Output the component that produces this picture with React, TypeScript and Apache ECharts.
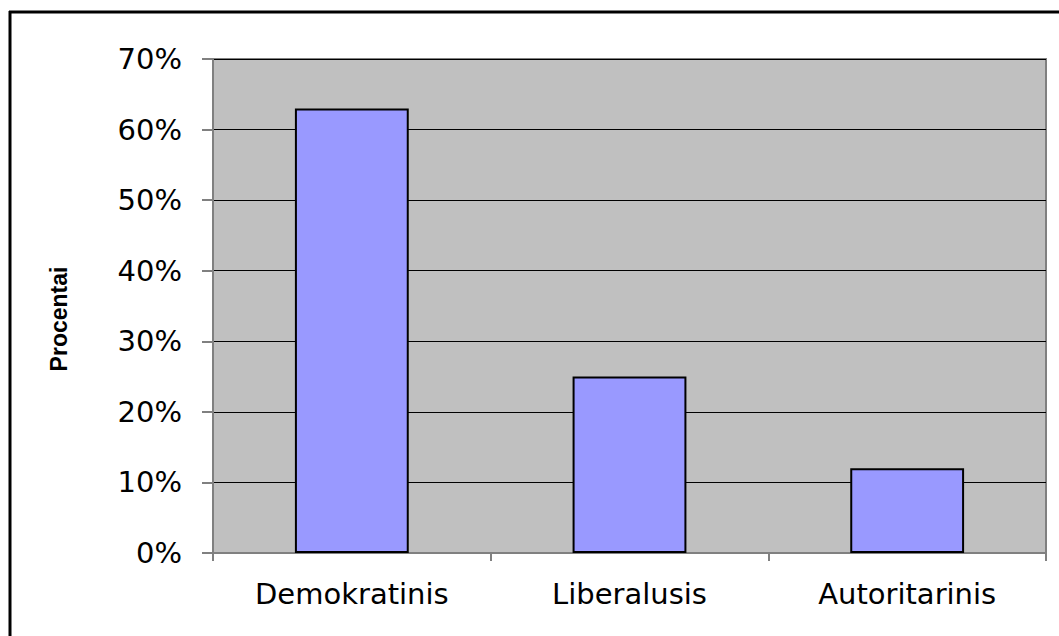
import React, { useEffect, useRef } from "react";
import * as echarts from "echarts";

const categories = ["Demokratinis", "Liberalusis", "Autoritarinis"];
const values = [63, 25, 12];
const yTicks = { min: 0, max: 70, interval: 10 };
const yTitle = "Procentai";

export default function App() {
  const ref = useRef<HTMLDivElement>(null);
  useEffect(() => {
    if (!ref.current) return;
    document.body.style.margin = "0";
    document.body.style.overflow = "hidden";
    const chart = echarts.init(ref.current, undefined, { renderer: "svg" });
    chart.setOption({
      animation: false,
      backgroundColor: "#ffffff",
      grid: {
        left: 213,
        top: 59,
        right: 13,
        bottom: 83,
        show: true,
        backgroundColor: "#C0C0C0",
        borderColor: "#808080",
        borderWidth: 2,
      },
      graphic: [
        {
          type: "line",
          shape: { x1: 10, y1: 11, x2: 10, y2: 636 },
          style: { stroke: "#000", lineWidth: 3 },
          silent: true,
        },
        {
          type: "line",
          shape: { x1: 9, y1: 12, x2: 1059, y2: 12 },
          style: { stroke: "#000", lineWidth: 3 },
          silent: true,
        },
        {
          type: "text",
          x: 59,
          y: 319,
          rotation: Math.PI / 2,
          style: {
            text: yTitle,
            fontSize: 23,
            fontWeight: "bold",
            fontFamily: "Liberation Sans, Arial, sans-serif",
            fill: "#000",
            align: "center",
            verticalAlign: "middle",
          },
        },
      ],
      xAxis: {
        type: "category",
        data: categories,
        boundaryGap: true,
        axisLine: { lineStyle: { color: "#808080", width: 2 } },
        axisTick: { show: true, length: 8, lineStyle: { color: "#808080", width: 2 } },
        axisLabel: {
          color: "#000",
          fontSize: 29,
          fontFamily: "'DejaVu Sans', sans-serif",
          margin: 26,
        },
      },
      yAxis: {
        type: "value",
        min: yTicks.min,
        max: yTicks.max,
        interval: yTicks.interval,
        axisLine: { show: true, lineStyle: { color: "#808080", width: 2 } },
        axisTick: { show: true, length: 11, lineStyle: { color: "#808080", width: 2 } },
        axisLabel: {
          color: "#000",
          fontSize: 29,
          fontFamily: "'DejaVu Sans', sans-serif",
          margin: 31,
          formatter: (v: number) => v + "%",
        },
        splitLine: { show: true, lineStyle: { color: "#000", width: 1 } },
      },
      series: [
        {
          type: "bar",
          data: values,
          barWidth: "41%",
          itemStyle: { color: "#9999FF", borderColor: "#000", borderWidth: 2 },
        },
      ],
    });
    return () => chart.dispose();
  }, []);
  return (
    <div
      ref={ref}
      style={{ position: "absolute", left: 0, top: 0, width: 1059, height: 636, background: "#fff" }}
    />
  );
}
